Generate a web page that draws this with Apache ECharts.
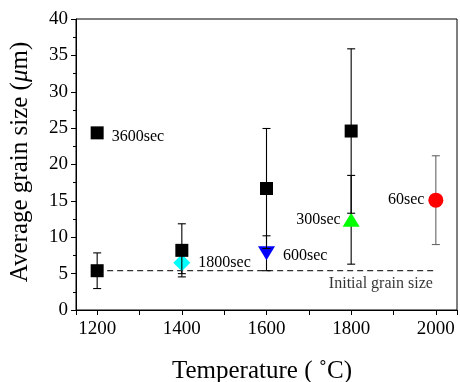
<!DOCTYPE html>
<html>
<head>
<meta charset="utf-8">
<script src="https://cdn.jsdelivr.net/npm/echarts@6/dist/echarts.min.js"></script>
<style>
html,body{margin:0;padding:0;background:#fff;}
#echarts{width:460px;height:382px;}
</style>
</head>
<body>
<div id="echarts"></div>
<script>
// 3600sec (squares)
var temps3600 = [1200, 1400, 1600, 1800];
var size3600 = [5.4, 8.2, 16.7, 24.6];
var err3600 = [2.45, 3.65, 8.25, 11.3];
// 1800sec (diamond)
var temps1800 = [1400];
var size1800 = [6.5];
var err1800 = [1.5];
// 600sec (down triangle)
var temps600 = [1600];
var size600 = [7.8];
var err600 = [2.4];
// 300sec (up triangle)
var temps300 = [1800];
var size300 = [12.4];
var err300 = [6.1];
// 60sec (circle)
var temps60 = [2000];
var size60 = [15.1];
var err60 = [6.1];
// in-plot key for the squares
var keyPoint = [1200, 24.35];
// initial grain size line
var initialTemps = [1200, 2000];
var initialSize = 5.4;
var yTicks = [0, 5, 10, 15, 20, 25, 30, 35, 40];

var font = 'Liberation Serif';

function points(t, v){
  return t.map(function(x, i){ return [x, v[i]]; });
}
function bars(t, v, e){
  return t.map(function(x, i){ return [x, v[i] - e[i], v[i] + e[i]]; });
}
function errorBar(data, color, z){
  return {
    type: 'custom',
    z: z,
    silent: true,
    data: data,
    encode: {x: 0, y: [1, 2]},
    renderItem: function(params, api){
      var lo = api.coord([api.value(0), api.value(1)]);
      var hi = api.coord([api.value(0), api.value(2)]);
      var w = 4;
      var st = {stroke: color, lineWidth: 1.1};
      return {
        type: 'group',
        children: [
          {type: 'line', shape: {x1: lo[0], y1: lo[1], x2: hi[0], y2: hi[1]}, style: st},
          {type: 'line', shape: {x1: lo[0] - w, y1: lo[1], x2: lo[0] + w, y2: lo[1]}, style: st},
          {type: 'line', shape: {x1: hi[0] - w, y1: hi[1], x2: hi[0] + w, y2: hi[1]}, style: st}
        ]
      };
    }
  };
}
function textLabel(txt, pos){
  return {show: true, formatter: txt, position: pos, distance: 8,
    color: '#000', fontFamily: font, fontSize: 16};
}

var chart = echarts.init(document.getElementById('echarts'));
var option = {
  animation: false,
  grid: {
    left: 76, right: 3, top: 19, bottom: 72,
    outerBoundsMode: 'none',
    show: true, borderColor: '#000', borderWidth: 1
  },
  xAxis: {
    type: 'value',
    min: 1150, max: 2050,
    splitNumber: 9,
    name: 'Temperature ( ˚C)',
    nameLocation: 'middle',
    nameGap: 49,
    nameTextStyle: {fontFamily: font, fontSize: 25, color: '#000', padding: [0, 9, 0, 0]},
    axisLine: {lineStyle: {color: '#000', width: 1}},
    axisTick: {inside: false, length: 5, lineStyle: {color: '#000'}},
    axisLabel: {
      margin: 10, color: '#000', fontFamily: font, fontSize: 19,
      formatter: function(v){ return v % 200 === 0 ? String(v) : ''; }
    },
    splitLine: {show: false}
  },
  yAxis: {
    type: 'value',
    min: yTicks[0], max: yTicks[yTicks.length - 1], interval: 5,
    name: '{a|Average grain size (}{i|μ}{a|m)}',
    nameLocation: 'middle',
    nameGap: 43,
    nameTextStyle: {
      padding: [0, 0, 0, 5],
      rich: {
        a: {fontFamily: font, fontSize: 25, color: '#000'},
        i: {fontFamily: font, fontSize: 25, fontStyle: 'italic', color: '#000'}
      }
    },
    axisLine: {lineStyle: {color: '#000', width: 1}},
    axisTick: {inside: false, length: 5, lineStyle: {color: '#000'}},
    minorTick: {show: true, splitNumber: 2, length: 3, lineStyle: {color: '#000'}},
    axisLabel: {margin: 8, color: '#000', fontFamily: font, fontSize: 19},
    splitLine: {show: false}
  },
  series: [
    {
      type: 'line',
      data: points(initialTemps, [initialSize, initialSize]),
      symbol: 'none',
      lineStyle: {color: '#333', width: 1.3, type: [6, 4]},
      z: 1
    },
    {
      type: 'scatter',
      data: [[initialTemps[1], initialSize]],
      symbolSize: 0,
      silent: true,
      label: {show: true, formatter: 'Initial grain size', position: 'bottom',
        align: 'right', distance: 5, offset: [-3, 0],
        color: '#000', fontFamily: font, fontSize: 16}
    },
    errorBar(bars(temps1800, size1800, err1800), '#000', 2),
    errorBar(bars(temps600, size600, err600), '#000', 2),
    errorBar(bars(temps300, size300, err300), '#000', 2),
    errorBar(bars(temps60, size60, err60), '#666', 2),
    {
      type: 'scatter', z: 3, data: points(temps1800, size1800),
      symbol: 'diamond', symbolSize: [17, 17], itemStyle: {color: '#00FFFF', opacity: 1},
      label: textLabel('1800sec', 'right')
    },
    {
      type: 'scatter', z: 3, data: points(temps600, size600),
      symbol: 'triangle', symbolRotate: 180, symbolSize: [17, 14], itemStyle: {color: '#0000FF', opacity: 1},
      label: Object.assign(textLabel('600sec', 'right'), {offset: [0, 3]})
    },
    {
      type: 'scatter', z: 3, data: points(temps300, size300),
      symbol: 'triangle', symbolSize: [17, 14], itemStyle: {color: '#00FF00', opacity: 1},
      label: Object.assign(textLabel('300sec', 'left'), {distance: 2})
    },
    {
      type: 'scatter', z: 3, data: points(temps60, size60),
      symbol: 'circle', symbolSize: 15, itemStyle: {color: '#FF0000', opacity: 1},
      label: Object.assign(textLabel('60sec', 'left'), {distance: 4})
    },
    {
      type: 'scatter', z: 4, data: points(temps3600, size3600),
      symbol: 'rect', symbolSize: 13, itemStyle: {color: '#000', opacity: 1}
    },
    errorBar(bars(temps3600, size3600, err3600), '#000', 5),
    {
      type: 'scatter', z: 4, data: [keyPoint],
      symbol: 'rect', symbolSize: 13, itemStyle: {color: '#000', opacity: 1},
      label: Object.assign(textLabel('3600sec', 'right'), {offset: [0, 4]})
    }
  ]
};
chart.setOption(option);
</script>
</body>
</html>
